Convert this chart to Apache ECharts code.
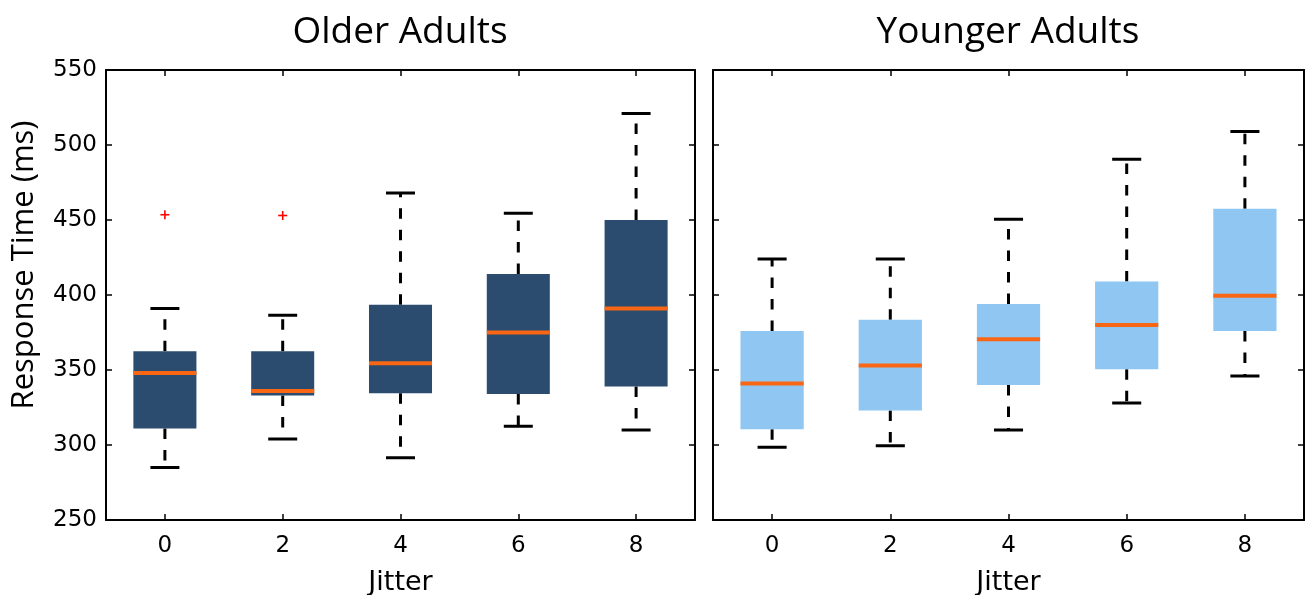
<!DOCTYPE html>
<html>
<head>
<meta charset="utf-8">
<script src="https://cdn.jsdelivr.net/npm/echarts@6/dist/echarts.min.js"></script>
<style>
  html, body { margin: 0; padding: 0; background: #fff; }
  #main { width: 1308px; height: 595px; }
</style>
</head>
<body>
<div id="main"></div>
<script>
// 数据
var categories = ['0', '2', '4', '6', '8'];

var olderMin = [285, 304, 291.5, 312.5, 310];
var olderQ1 = [311, 333, 334.5, 334, 339];
var olderMed = [348, 336, 354.5, 375, 391];
var olderQ3 = [362.5, 362.5, 393.5, 414, 450];
var olderMax = [391, 386.5, 468, 454.5, 521];
var olderOutlierCat = [0, 1];
var olderOutlierVal = [453.5, 453];

var youngerMin = [298.5, 299.5, 310, 328, 346];
var youngerQ1 = [310.5, 323, 340, 350.5, 376];
var youngerMed = [341, 353, 370.5, 380, 399.5];
var youngerQ3 = [376, 383.5, 394, 409, 457.5];
var youngerMax = [424, 424, 450.5, 490.5, 509];

function boxRows(mn, q1, md, q3, mx) {
    return categories.map(function (c, i) {
        return [i, mn[i], q1[i], md[i], q3[i], mx[i]];
    });
}

var numFont = 'DejaVu Sans';
var textFont = 'Open Sans';

// 箱线图：箱体、中位线、虚线须、端线
function makeBoxRender(fill) {
    return function (params, api) {
        var i = api.value(0);
        var pMin = api.coord([i, api.value(1)]);
        var pQ1 = api.coord([i, api.value(2)]);
        var pMed = api.coord([i, api.value(3)]);
        var pQ3 = api.coord([i, api.value(4)]);
        var pMax = api.coord([i, api.value(5)]);
        var band = api.size([1, 0])[0];
        var bw = band * 0.535;
        var cw = band * 0.246;
        var x = pMed[0];
        var black = { stroke: '#000', lineWidth: 3 };
        var dashed = { stroke: '#000', lineWidth: 3, lineDash: [10.5, 11] };
        return {
            type: 'group',
            children: [
                { type: 'line', shape: { x1: x, y1: pQ3[1], x2: x, y2: pMax[1] }, style: dashed },
                { type: 'line', shape: { x1: x, y1: pQ1[1], x2: x, y2: pMin[1] }, style: dashed },
                { type: 'line', shape: { x1: x - cw / 2, y1: pMax[1], x2: x + cw / 2, y2: pMax[1] }, style: black },
                { type: 'line', shape: { x1: x - cw / 2, y1: pMin[1], x2: x + cw / 2, y2: pMin[1] }, style: black },
                { type: 'rect', shape: { x: x - bw / 2, y: pQ3[1], width: bw, height: pQ1[1] - pQ3[1] }, style: { fill: fill } },
                { type: 'line', shape: { x1: x - bw / 2, y1: pMed[1], x2: x + bw / 2, y2: pMed[1] }, style: { stroke: '#F96714', lineWidth: 4 } }
            ]
        };
    };
}

function plusRender(params, api) {
    var p = api.coord([api.value(0), api.value(1)]);
    var s = 4.5;
    return {
        type: 'group',
        children: [
            { type: 'line', shape: { x1: p[0] - s, y1: p[1], x2: p[0] + s, y2: p[1] }, style: { stroke: '#ff0000', lineWidth: 1.6 } },
            { type: 'line', shape: { x1: p[0], y1: p[1] - s, x2: p[0], y2: p[1] + s }, style: { stroke: '#ff0000', lineWidth: 1.6 } }
        ]
    };
}

function xAx(gi, pos, show) {
    return {
        type: 'category', gridIndex: gi, position: pos, data: categories,
        boundaryGap: true,
        axisLine: { show: true, onZero: false, lineStyle: { color: '#000', width: 2 } },
        axisTick: { show: true, inside: true, alignWithLabel: true, length: 6, lineStyle: { color: '#000', width: 1.5 } },
        axisLabel: { show: show, margin: 15, color: '#000', fontSize: 23, fontFamily: numFont },
        splitLine: { show: false },
        name: show ? 'Jitter' : '', nameLocation: 'middle', nameGap: 49,
        nameTextStyle: { color: '#000', fontSize: 27, fontFamily: numFont }
    };
}

function yAx(gi, pos, show) {
    return {
        type: 'value', gridIndex: gi, position: pos, min: 250, max: 550, interval: 50,
        axisLine: { show: true, onZero: false, lineStyle: { color: '#000', width: 2 } },
        axisTick: { show: true, inside: true, length: 6, lineStyle: { color: '#000', width: 1.5 } },
        axisLabel: { show: show, margin: 9, color: '#000', fontSize: 23, fontFamily: numFont },
        splitLine: { show: false }
    };
}

var myChart = echarts.init(document.getElementById('main'));

var option = {
    backgroundColor: '#fff',
    animation: false,
    title: [
        { text: 'Older Adults', left: 395, top: 9, textAlign: 'center',
          textStyle: { color: '#000', fontSize: 37, fontWeight: 'normal', fontFamily: textFont } },
        { text: 'Younger Adults', left: 1003, top: 9, textAlign: 'center',
          textStyle: { color: '#000', fontSize: 37, fontWeight: 'normal', fontFamily: textFont } }
    ],
    graphic: [
        { type: 'text', x: 24, y: 265, rotation: Math.PI / 2,
          style: { text: 'Response Time (ms)', fill: '#000', fontSize: 31, fontFamily: textFont,
                   align: 'center', verticalAlign: 'middle' } }
    ],
    grid: [
        { left: 106, top: 70, width: 589, height: 450, outerBoundsMode: 'none' },
        { left: 713, top: 70, width: 591, height: 450, outerBoundsMode: 'none' }
    ],
    xAxis: [
        xAx(0, 'bottom', true), xAx(0, 'top', false),
        xAx(1, 'bottom', true), xAx(1, 'top', false)
    ],
    yAxis: [
        yAx(0, 'left', true), yAx(0, 'right', false),
        yAx(1, 'left', false), yAx(1, 'right', false)
    ],
    series: [
        {
            name: 'Older', type: 'custom', xAxisIndex: 0, yAxisIndex: 0,
            renderItem: makeBoxRender('#2B4C6E'),
            encode: { x: 0, y: [1, 2, 3, 4, 5] },
            data: boxRows(olderMin, olderQ1, olderMed, olderQ3, olderMax)
        },
        {
            name: 'Older outliers', type: 'custom', xAxisIndex: 0, yAxisIndex: 0,
            renderItem: plusRender,
            encode: { x: 0, y: 1 },
            data: olderOutlierCat.map(function (c, i) { return [c, olderOutlierVal[i]]; })
        },
        {
            name: 'Younger', type: 'custom', xAxisIndex: 2, yAxisIndex: 2,
            renderItem: makeBoxRender('#90C6F2'),
            encode: { x: 0, y: [1, 2, 3, 4, 5] },
            data: boxRows(youngerMin, youngerQ1, youngerMed, youngerQ3, youngerMax)
        }
    ]
};

myChart.setOption(option);
</script>
</body>
</html>
